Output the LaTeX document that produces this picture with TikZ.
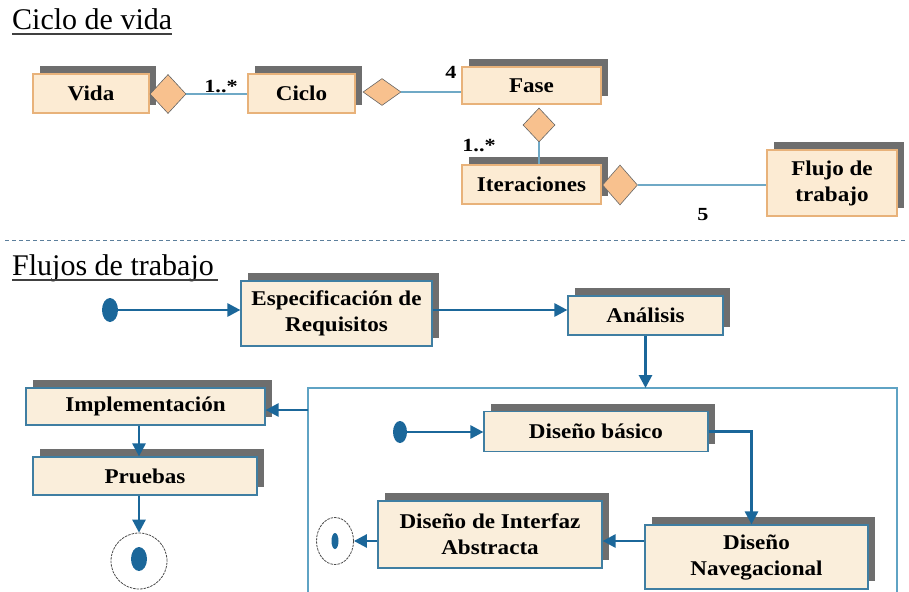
\documentclass[tikz,border=0pt]{standalone}
\usepackage{fontspec}
\setmainfont{Liberation Serif}
\newfontfamily\boxfont[FakeStretch=1.1]{Liberation Serif}
\newfontfamily\lblfont[FakeStretch=1.2]{Liberation Serif}
\usetikzlibrary{arrows.meta,shapes.geometric,calc}
\definecolor{shadowgray}{HTML}{6E6E6E}
\definecolor{creamA}{HTML}{FCEBD3}
\definecolor{creamB}{HTML}{FAEEDB}
\definecolor{borderA}{HTML}{E8B27A}
\definecolor{borderB}{HTML}{3F7EA2}
\definecolor{diafill}{HTML}{F8C18E}
\definecolor{assoc}{HTML}{6FA9C6}
\definecolor{flowblue}{HTML}{1B679A}
\definecolor{frameblue}{HTML}{5FA3C4}
\definecolor{dashcol}{HTML}{5C7F9C}
\tikzset{
  basebox/.style={rectangle, inner sep=2pt, align=center,
    font=\boxfont\bfseries\fontsize{21}{26}\selectfont,
    preaction={fill=shadowgray, transform canvas={xshift=6.5pt,yshift=8pt}}},
  umlbox/.style={basebox, fill=creamA, draw=borderA, line width=1.2pt},
  flowbox/.style={basebox, fill=creamB, draw=borderB, line width=1.2pt},
  agg/.style={diamond, inner sep=0pt, fill=diafill, draw=gray!80!black, line width=0.6pt},
  assocline/.style={draw=assoc, line width=1.6pt},
  mult/.style={font=\lblfont\bfseries\fontsize{18.5}{22}\selectfont, inner sep=0pt},
  flow/.style={draw=flowblue, line width=2.8pt, -{Triangle[length=13pt,width=13pt]}},
  startdot/.style={ellipse, fill=flowblue, inner sep=0pt},
  endring/.style={ellipse, inner sep=0pt, draw=gray!60!black, line width=0.8pt, dash pattern=on 2.5pt off 1pt},
  title/.style={font=\fontsize{30}{33}\selectfont, inner sep=0pt, anchor=base west, text=black}
}
\begin{document}
\begin{tikzpicture}[x=1pt,y=-1pt]
\useasboundingbox (0,0) rectangle (909,591);

% titles
\node[title] (t1) at (12,30) {Ciclo de vida};
\draw[black!75, line width=1.2pt] (t1.base west) ++(0,4) -- ++(160,0);
\node[title] (t2) at (12,275) {Flujos de trabajo};
\draw[black!75, line width=1.2pt] (t2.base west) ++(0,5) -- ++(206,0);

% dashed separator
\draw[dashcol, line width=0.9pt, dash pattern=on 4pt off 3pt] (5,240) -- (906,240);

% ---- Ciclo de vida ----
\node[umlbox, minimum width=116pt, minimum height=39pt] (vida) at (91,93.5) {Vida};
\node[umlbox, minimum width=107pt, minimum height=39pt] (ciclo) at (301.5,93.5) {Ciclo};
\node[umlbox, minimum width=139pt, minimum height=37pt] (fase) at (531.5,85.5) {Fase};
\node[umlbox, minimum width=139pt, minimum height=39pt] (iter) at (531.5,184.5) {Iteraciones};
\node[umlbox, minimum width=130pt, minimum height=66pt] (flujo) at (832,183) {Flujo de\\trabajo};

\node[agg, minimum width=36pt, minimum height=39pt] (vd) at (168,94) {};
\node[agg, minimum width=38pt, minimum height=27pt] (cd) at (382,92) {};
\node[agg, minimum width=32pt, minimum height=34pt] (fd) at (539,125) {};
\node[agg, minimum width=35pt, minimum height=40pt] (id) at (620,185) {};

\draw[assocline] (vd.east) -- (vd.east -| ciclo.west);
\draw[assocline] (cd.east) -- (cd.east -| fase.west);
\draw[assocline] (fd.south) -- (fd.south |- iter.north);
\draw[assocline] (id.east) -- (id.east -| flujo.west);

\node[mult] (m1) at (221,87) {1..*};
\node[mult] (m2) at (451,72) {4};
\node[mult] (m3) at (479,146) {1..*};
\node[mult] (m4) at (703,215) {5};

% ---- Flujos de trabajo ----
\node[startdot, minimum width=16pt, minimum height=24pt] (s1) at (110,310) {};
\node[flowbox, minimum width=191pt, minimum height=65pt] (espec) at (336.5,313.5) {Especificación de\\Requisitos};
\node[flowbox, minimum width=155pt, minimum height=39pt] (anal) at (645.5,315.5) {Análisis};
\node[flowbox, minimum width=239pt, minimum height=37pt] (impl) at (145.5,406.5) {Implementación};
\node[flowbox, minimum width=224pt, minimum height=38pt] (prue) at (145,476) {Pruebas};
\node[endring, minimum width=56pt, minimum height=56pt] (e1) at (139,561) {};
\node[startdot, minimum width=16pt, minimum height=24pt] (e1dot) at (139,559) {};

% container frame
\draw[frameblue, line width=1.4pt] (308,592) -- (308,388) -- (897,388) -- (897,592);
\coordinate (ctop) at (645.5,388);
\coordinate (cleft) at (308,410);

\node[startdot, minimum width=14pt, minimum height=22pt] (s2) at (400,432) {};
\node[flowbox, minimum width=224pt, minimum height=40pt] (basico) at (596,431.5) {Diseño básico};
\node[flowbox, minimum width=223pt, minimum height=64pt] (naveg) at (756.5,557) {Diseño\\Navegacional};
\node[flowbox, minimum width=224pt, minimum height=67pt] (inter) at (490,534.5) {Diseño de Interfaz\\Abstracta};
\node[endring, minimum width=37pt, minimum height=47pt] (e2) at (335,541) {};
\node[startdot, minimum width=7pt, minimum height=16pt] (e2dot) at (335,541) {};

% flow arrows
\draw[flow] (s1.east) -- (s1.east -| espec.west);
\draw[flow] (espec.east |- s1) -- (s1 -| anal.west);
\draw[flow] (anal.south) -- (ctop);
\draw[flow] (cleft) -- (cleft -| impl.east);
\draw[flow] (impl.south -| e1) -- (prue.north -| e1);
\draw[flow] (prue.south -| e1) -- (e1.north);
\draw[flow] (s2.east) -- (s2.east -| basico.west);
\draw[flow] (basico.east) -| ($(naveg.north)+(-5,0)$);
\draw[flow] (naveg.west |- e2) -- (inter.east |- e2);
\draw[flow] (inter.west |- e2) -- (e2.east);
\end{tikzpicture}
\end{document}
